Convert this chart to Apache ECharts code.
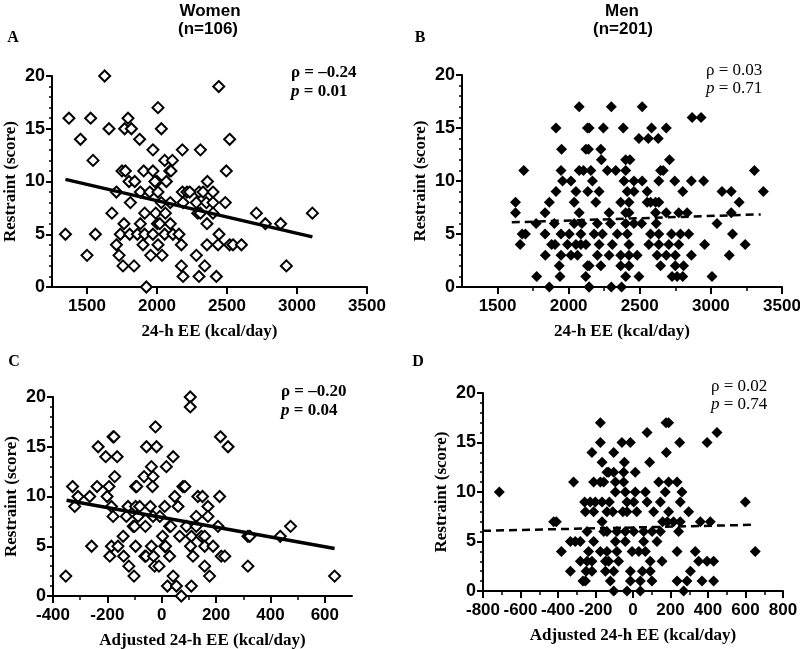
<!DOCTYPE html>
<html>
<head>
<meta charset="utf-8">
<script src="https://cdn.jsdelivr.net/npm/echarts@6/dist/echarts.min.js"></script>
<style>
html,body{margin:0;padding:0;background:#fff;}
#chart{width:800px;height:649px;}
</style>
</head>
<body>
<div id="chart"></div>
<script>
// ---- Data ----
// Panel A: women, 24-h EE (kcal/day) vs restraint score
const womenEE_restraint = [
[1626,20],[1371,16],[1526,16],[1793,16],[2007,17],[1657,15],[1769,15],[1817,15],[2031,15],[1453,14],[1876,14],
[1971,13],[2181,13],[2310,13],[1543,12],[2055,12],[2110,12],[1750,11],[1774,11],[1905,11],[1971,11],[2091,11],[2100,11],
[1800,10],[1841,10],[2000,10],[2067,10],[1985,10],[1710,9],[1881,9],[1948,9],[2007,9],[2181,9],[2214,9],[2300,9],
[1810,8],[2031,8],[2095,8],[2186,8],[2281,8],[1678,7],[1912,7],[1991,7],[2060,7],[2291,7],
[1764,6],[1881,6],[2003,6],[2020,6],[2095,6],[1346,5],[1560,5],[1738,5],[1805,5],[1860,5],[1912,5],[1971,5],[2055,5],[2114,5],[2157,5],
[1710,4],[1900,4],[2007,4],[2174,4],[1500,3],[1729,3],[1955,3],[2036,3],[2281,3],[1757,2],[1836,2],[2174,2],[2186,1],[2300,1],[1924,0],
[2441,19],[2519,14],[2495,11],[2360,10],[2234,9],[2329,9],[2400,9],[2353,8],[2400,8],[2488,8],[2310,7],[2400,7],[2710,7],[3110,7],
[2357,6],[2774,6],[2883,6],[2443,5],[2357,4],[2436,4],[2519,4],[2543,4],[2603,4],[2341,2],[2924,2],[2424,1]
];
const womenEE_fit = [[1346,10.2],[3110,4.75]];

// Panel B: men, 24-h EE (kcal/day) vs restraint score
const menEE_restraint = [
[2074,17],[1911,15],[2132,15],[1950,13],[2121,13],[1684,11],[1946,11],[2074,11],[2104,11],[1957,10],[2016,10],[1911,9],[2051,9],[2134,9],
[1626,8],[1864,8],[2039,8],[1626,7],[1834,7],[2074,7],[1771,6],[1899,6],[2039,6],[2093,6],[1673,5],[1696,5],[1834,5],[1946,5],[2004,5],[2086,5],
[1659,4],[1880,4],[1904,4],[1992,4],[2051,4],[2086,4],[1836,3],[1946,3],[2016,3],[2062,3],[1934,2],[2132,2],[1775,1],[1939,1],[2120,1],[1864,0],[2144,0],
[2300,17],[2517,17],[2868,16],[2931,16],[2144,15],[2244,15],[2384,15],[2583,15],[2686,15],[2494,14],[2560,14],[2630,14],[2139,13],[2226,13],
[2230,12],[2401,12],[2431,12],[2709,12],[2156,11],[2272,11],[2331,11],[2401,11],[2646,11],[2665,11],[3306,11],
[2167,10],[2389,10],[2459,10],[2517,10],[2634,10],[2746,10],[2863,10],[2949,10],
[2214,9],[2412,9],[2459,9],[2552,9],[2802,9],[3078,9],[3143,9],[3369,9],
[2191,8],[2366,8],[2424,8],[2552,8],[2576,8],[2611,8],[2634,8],[3199,8],
[2284,7],[2401,7],[2424,7],[2611,7],[2686,7],[2774,7],[2833,7],[3143,7],
[2202,6],[2294,6],[2401,6],[2459,6],[2513,6],[2616,6],[3043,6],
[2179,5],[2237,5],[2342,5],[2412,5],[2576,5],[2634,5],[2723,5],[2786,5],[2844,5],[3152,5],
[2121,4],[2214,4],[2307,4],[2424,4],[2564,4],[2634,4],[2704,4],[2774,4],[2956,4],[3241,4],
[2202,3],[2284,3],[2366,3],[2424,3],[2482,3],[2622,3],[2686,3],[2750,3],[2863,3],[3129,3],
[2144,2],[2226,2],[2366,2],[2424,2],[2646,2],[2750,2],[2808,2],
[2401,1],[2494,1],[2727,1],[2762,1],[2802,1],[3008,1],[2144,0],[2300,0],[2372,0]
];
const menEE_fit = [[1600,6.1],[3350,6.85]];

// Panel C: women, adjusted 24-h EE (kcal/day) vs restraint score
const womenAdj_restraint = [
[-353,2],[-328,11],[-320,9],[-308,10],[-265,10],[-258,5],[-238,11],[-234,15],[-206,14],[-179,16],[-176,16],[-164,14],[-173,12],
[-194,11],[-201,10],[-185,9],[-179,8],[-124,9],[-130,8],[-142,6],[-191,4],[-185,5],[-161,5],[-140,4],[-121,3],[-102,2],[-96,5],
[-105,7],[-100,7],[-96,11],[-92,11],[-96,9],[-81,9],[-87,8],[-60,7],[-65,12],[-56,15],[-38,13],[-32,12],[-34,11],[-19,15],[-23,17],
[-42,9],[-32,8],[-7,8],[-62,4],[-58,4],[-38,5],[-30,4],[-26,3],[-10,3],[3,6],[11,5],[14,5],[11,9],[17,13],[42,14],[48,10],[60,9],
[29,7],[33,7],[29,4],[21,1],[42,2],[54,1],[72,0],[66,6],[78,11],[85,11],[105,20],[105,19],[91,7],[109,6],[106,5],[115,4],[109,1],
[127,8],[133,10],[216,16],[244,15],[150,10],[213,10],[170,9],[170,8],[207,7],[127,7],[146,6],[158,6],[317,6],[324,6],[436,6],[474,7],
[158,5],[189,5],[219,4],[232,4],[158,3],[176,2],[317,3],[636,2]
];
const womenAdj_fit = [[-350,9.63],[636,4.78]];

// Panel D: men, adjusted 24-h EE (kcal/day) vs restraint score
const menAdj_restraint = [
[-713,10],[-423,7],[-409,7],[-382,4],[-317,11],[-334,5],[-308,5],[-281,5],[-334,2],[-281,3],[-267,1],[-254,1],[-258,9],[-254,8],
[-245,6],[-237,4],[-245,3],[-250,2],[-219,14],[-228,9],[-201,9],[-210,11],[-210,8],[-210,5],[-219,3],[-219,2],[-174,17],[-174,15],
[-165,13],[-174,11],[-156,11],[-165,9],[-165,7],[-156,6],[-174,4],[-147,3],[-139,12],[-139,8],[-147,2],[-139,4],
[176,17],[190,17],[75,16],[448,16],[-59,15],[-14,15],[249,15],[395,15],[-103,14],[178,14],[-46,13],[89,13],
[-130,12],[-103,12],[-50,12],[12,12],[-94,11],[-50,11],[137,11],[190,11],[235,11],
[-94,10],[-41,10],[12,10],[66,10],[172,10],[261,10],[-126,9],[-32,9],[4,9],[75,9],[146,9],[252,9],[599,9],
[-108,8],[-54,8],[-32,8],[20,8],[110,8],[190,8],[297,8],[158,7],[183,7],[216,7],[252,7],[359,7],[412,7],
[-139,6],[-86,6],[-41,6],[4,6],[57,6],[102,6],[146,6],[243,6],[-94,5],[-41,5],[57,5],[128,5],
[-86,4],[-5,4],[31,4],[66,4],[235,4],[332,4],[652,4],[-130,3],[-77,3],[92,3],[155,3],[350,3],[395,3],[430,3],
[-103,2],[-14,2],[50,2],[92,2],[306,2],[-121,1],[-14,1],[39,1],[101,1],[235,1],[288,1],[368,1],[430,1],
[-103,0],[-32,0],[39,0],[270,0]
];
const menAdj_fit = [[-800,6.08],[652,6.69]];

// Tick labels
const eeTicks = [1500,2000,2500,3000,3500];
const eeMinorTicks = [1750,2250,2750,3250];
const adjTicksWomen = [-400,-200,0,200,400,600];
const adjMinorWomen = [-300,-100,100,300,500];

// Annotations
const panelTitles = [{text:'Women', x:210},{text:'Men', x:622}];
const panelN = [{text:'(n=106)', x:208},{text:'(n=201)', x:623}];

// ---- Chart ----
const chart = echarts.init(document.getElementById('chart'), null, {renderer:'canvas'});
const BLACK = '#000';
const plain = v => String(v);
const sansBold = {fontFamily:'Liberation Sans', fontWeight:'bold', fontSize:17, color:BLACK};
const serifName = {fontFamily:'Liberation Serif', fontWeight:'bold', fontSize:17, color:BLACK};

const grids = [
  {left:52, top:76, width:315, height:211},
  {left:462, top:75, width:320, height:212},
  {left:53, top:397, width:299, height:199},
  {left:483, top:393, width:300, height:198}
].map(g => Object.assign({containLabel:false, outerBoundsMode:'none', show:false}, g));

function yAxisCfg(gi){
  return {
    type:'value', gridIndex:gi, min:0, max:20, interval:5,
    name:'Restraint (score)', nameLocation:'middle', nameGap:33, nameTextStyle:serifName,
    axisLine:{show:true, onZero:false, lineStyle:{color:BLACK, width:2}},
    axisTick:{show:true, length:6, lineStyle:{color:BLACK, width:2}},
    minorTick:{show:true, splitNumber:5, length:3, lineStyle:{color:BLACK, width:1.5}},
    axisLabel:Object.assign({margin:7, formatter:plain}, sansBold, {fontSize:18}),
    splitLine:{show:false}, minorSplitLine:{show:false}
  };
}
function xAxisCfg(gi, min, max, name, labels, opts){
  const base = {
    type:'value', gridIndex:gi, min:min, max:max, position:'bottom',
    name:name, nameLocation:'middle', nameGap:36, nameTextStyle:serifName,
    axisLine:{show:true, onZero:false, lineStyle:{color:BLACK, width:2}},
    axisTick:{show:true, length:7, lineStyle:{color:BLACK, width:2}},
    axisLabel:Object.assign({margin:11, formatter:plain}, sansBold),
    splitLine:{show:false}
  };
  if (labels){
    base.axisLabel.customValues = labels;
    base.axisTick.customValues = labels;
  }
  return Object.assign(base, opts||{});
}
function minorXAxis(gi, min, max, values){
  return {
    type:'value', gridIndex:gi, min:min, max:max, position:'bottom', offset:0,
    axisLine:{show:false}, axisLabel:{show:false}, splitLine:{show:false},
    axisTick:{show:true, length:4, customValues:values, lineStyle:{color:BLACK, width:1.5}}
  };
}

const xAxes = [
  xAxisCfg(0, 1250, 3500, '24-h EE (kcal/day)', eeTicks),
  xAxisCfg(1, 1250, 3500, '24-h EE (kcal/day)', eeTicks),
  xAxisCfg(2, -400, 700, 'Adjusted 24-h EE (kcal/day)', adjTicksWomen),
  xAxisCfg(3, -800, 800, 'Adjusted 24-h EE (kcal/day)', null, {interval:200,
     minorTick:{show:true, splitNumber:2, length:4, lineStyle:{color:BLACK, width:1.5}}}),
  minorXAxis(1, 1250, 3500, eeMinorTicks),
  minorXAxis(2, -400, 700, adjMinorWomen)
];
const yAxes = [yAxisCfg(0), yAxisCfg(1), yAxisCfg(2), yAxisCfg(3)];

function openScatter(xi, yi, data){
  return {type:'scatter', xAxisIndex:xi, yAxisIndex:yi, data:data, symbol:'diamond', symbolSize:11,
    itemStyle:{color:'#fff', borderColor:BLACK, borderWidth:2, opacity:1}, z:2};
}
function filledScatter(xi, yi, data){
  return {type:'scatter', xAxisIndex:xi, yAxisIndex:yi, data:data, symbol:'diamond', symbolSize:11,
    itemStyle:{color:BLACK, borderWidth:0, opacity:1}, z:2};
}
function fitLine(xi, yi, data, dashed){
  return {type:'line', xAxisIndex:xi, yAxisIndex:yi, data:data, symbol:'none', z:5,
    lineStyle:{color:BLACK, width:dashed?2.5:3.5, type:dashed?[8,5]:'solid'}};
}

const series = [
  openScatter(0,0,womenEE_restraint), fitLine(0,0,womenEE_fit,false),
  filledScatter(1,1,menEE_restraint), fitLine(1,1,menEE_fit,true),
  openScatter(2,2,womenAdj_restraint), fitLine(2,2,womenAdj_fit,false),
  filledScatter(3,3,menAdj_restraint), fitLine(3,3,menAdj_fit,true)
];

function txt(x, y, text, font, align, rich){
  const style = {text:text, x:0, y:0, fill:BLACK, font:font, align:align||'center', verticalAlign:'middle'};
  if (rich) style.rich = rich;
  return {type:'text', x:x, y:y, z:10, style:style};
}
const headFont = 'bold 17px "Liberation Sans", Arial, sans-serif';
const letterFont = 'bold 16px "Liberation Serif", "Times New Roman", serif';
const statBold = 'bold 17px "Liberation Serif", "Times New Roman", serif';
const statNorm = '17px "Liberation Serif", "Times New Roman", serif';
const italicRich = (bold) => ({i:{fontStyle:'italic', fontWeight:bold?'bold':'normal', fontSize:17, fontFamily:'Liberation Serif'},
                               n:{fontWeight:bold?'bold':'normal', fontSize:17, fontFamily:'Liberation Serif'}});

const graphics = [];
panelTitles.forEach(t => graphics.push(txt(t.x, 11, t.text, headFont)));
panelN.forEach(t => graphics.push(txt(t.x, 29, t.text, headFont)));
graphics.push(txt(13, 38, 'A', letterFont));
graphics.push(txt(420, 38, 'B', letterFont));
graphics.push(txt(14, 362, 'C', letterFont));
graphics.push(txt(418, 362, 'D', letterFont));
graphics.push(txt(291, 73, '{n|ρ = –0.24}', statBold, 'left', italicRich(true)));
graphics.push(txt(291, 92, '{i|p}{n| = 0.01}', statBold, 'left', italicRich(true)));
graphics.push(txt(706, 71, '{n|ρ = 0.03}', statNorm, 'left', italicRich(false)));
graphics.push(txt(706, 89, '{i|p}{n| = 0.71}', statNorm, 'left', italicRich(false)));
graphics.push(txt(281, 392, '{n|ρ = –0.20}', statBold, 'left', italicRich(true)));
graphics.push(txt(281, 411, '{i|p}{n| = 0.04}', statBold, 'left', italicRich(true)));
graphics.push(txt(711, 387, '{n|ρ = 0.02}', statNorm, 'left', italicRich(false)));
graphics.push(txt(711, 405, '{i|p}{n| = 0.74}', statNorm, 'left', italicRich(false)));

chart.setOption({
  animation:false,
  backgroundColor:'#fff',
  grid:grids,
  xAxis:xAxes,
  yAxis:yAxes,
  series:series,
  graphic:graphics
});
</script>
</body>
</html>
